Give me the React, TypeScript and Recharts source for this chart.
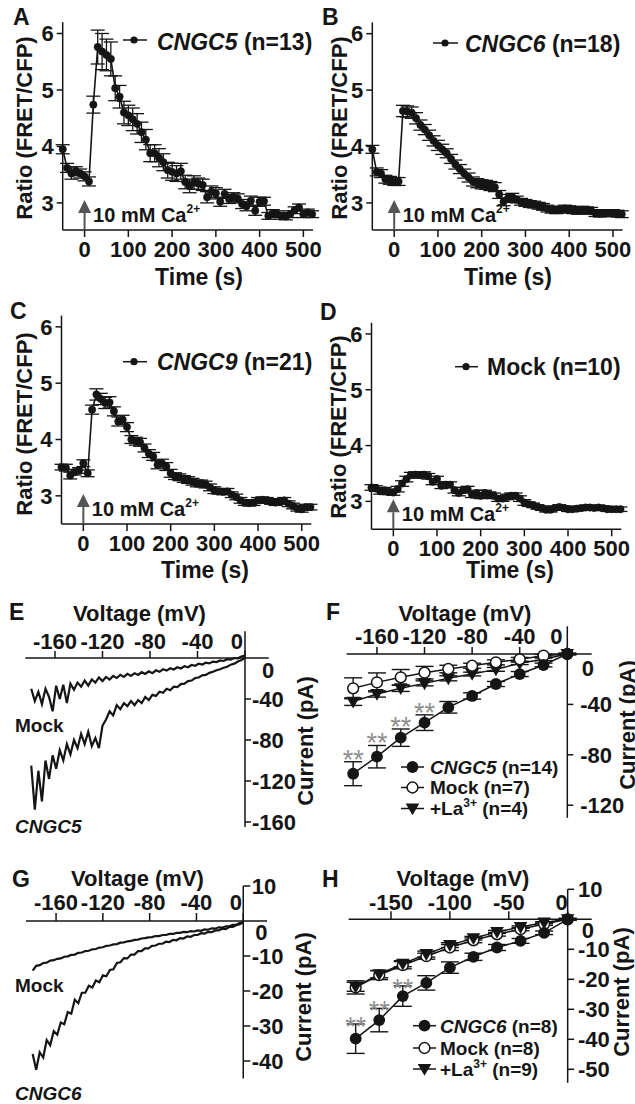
import React from "react";
import {
  ComposedChart,
  ErrorBar,
  Line,
  ReferenceDot,
  ReferenceLine,
  Scatter,
  XAxis,
  YAxis,
} from "recharts";

const FONT = '"Liberation Sans", Arial, Helvetica, sans-serif';
const INK = "#151515";
const ARROW_GRAY = "#555555";
const STAR_GRAY = "#8f8f8f";

// ---------- A–D: FRET/CFP ratio time courses ----------
const TIME_S = [
  -50, -40, -30, -20, -10, 0, 10, 20, 30, 40, 50, 60, 70, 80, 90, 100, 110, 120, 130, 140, 150,
  160, 170, 180, 190, 200, 210, 220, 230, 240, 250, 260, 270, 280, 290, 300, 310, 320, 330, 340,
  350, 360, 370, 380, 390, 400, 410, 420, 430, 440, 450, 460, 470, 480, 490, 500, 510, 520,
];
const TIME_TICKS = [0, 100, 200, 300, 400, 500];
const RATIO_TICKS = [3, 4, 5, 6];

const RATIO_CNGC5 = [
  3.95, 3.62, 3.52, 3.56, 3.52, 3.47, 3.38, 4.74, 5.76, 5.68, 5.62, 5.55, 5.03, 4.88, 4.6, 4.55,
  4.48, 4.4, 4.25, 4.12, 3.88, 3.88, 3.8, 3.72, 3.58, 3.55, 3.52, 3.56, 3.37, 3.3, 3.36, 3.34,
  3.32, 3.1, 3.2, 3.17, 3.02, 3.16, 3.07, 3.1, 3.08, 2.98, 2.94, 3.04, 2.86, 3.02, 3.03, 2.77,
  2.82, 2.8, 2.77, 2.76, 2.8, 2.87, 2.92, 2.8, 2.83, 2.8,
];
const SEM_CNGC5 = [
  0.08, 0.08, 0.1, 0.08, 0.08, 0.08, 0.08, 0.15, 0.3, 0.32, 0.28, 0.3, 0.22, 0.2, 0.2, 0.18, 0.2,
  0.18, 0.18, 0.18, 0.15, 0.15, 0.16, 0.15, 0.14, 0.15, 0.14, 0.14, 0.12, 0.12, 0.12, 0.1, 0.1,
  0.1, 0.1, 0.1, 0.08, 0.08, 0.08, 0.08, 0.08, 0.08, 0.08, 0.08, 0.08, 0.08, 0.07, 0.06, 0.06,
  0.06, 0.06, 0.06, 0.06, 0.06, 0.06, 0.06, 0.06, 0.06,
];
const RATIO_CNGC6 = [
  3.95, 3.55, 3.52, 3.42, 3.4, 3.38, 3.38, 4.63, 4.62, 4.6, 4.5, 4.38, 4.3, 4.2, 4.1, 4.02, 3.95,
  3.88, 3.78, 3.68, 3.6, 3.52, 3.45, 3.38, 3.35, 3.33, 3.32, 3.3, 3.28, 3.15, 3.02, 3.08, 3.1,
  3.06, 3.02, 3.0, 2.98, 2.97, 2.95, 2.93, 2.9, 2.88, 2.87, 2.88, 2.9, 2.89, 2.87, 2.86, 2.88,
  2.87, 2.86, 2.82, 2.81, 2.82, 2.82, 2.82, 2.81, 2.8,
];
const SEM_CNGC6 = [
  0.07, 0.07, 0.07, 0.07, 0.07, 0.07, 0.07, 0.1, 0.1, 0.1, 0.1, 0.09, 0.09, 0.09, 0.09, 0.09,
  0.09, 0.08, 0.08, 0.08, 0.08, 0.08, 0.08, 0.08, 0.08, 0.08, 0.08, 0.08, 0.08, 0.07, 0.07, 0.07,
  0.07, 0.06, 0.06, 0.06, 0.06, 0.06, 0.06, 0.06, 0.06, 0.06, 0.06, 0.06, 0.06, 0.06, 0.06, 0.06,
  0.06, 0.06, 0.06, 0.06, 0.06, 0.06, 0.06, 0.06, 0.06, 0.06,
];
const RATIO_CNGC9 = [
  3.51, 3.5, 3.36, 3.42, 3.45, 3.58, 3.4, 4.53, 4.8, 4.72, 4.65, 4.66, 4.5, 4.32, 4.35, 4.22, 4.0,
  3.97, 3.95, 3.85, 3.75, 3.7, 3.55, 3.58, 3.52, 3.4, 3.35, 3.33, 3.3, 3.28, 3.25, 3.22, 3.22,
  3.2, 3.15, 3.1, 3.08, 3.07, 3.08, 3.02, 2.98, 2.92, 2.88, 2.87, 2.88, 2.92, 2.93, 2.92, 2.9,
  2.88, 2.9, 2.92, 2.86, 2.82, 2.78, 2.76, 2.8, 2.8,
];
const SEM_CNGC9 = [
  0.05, 0.06, 0.06, 0.05, 0.05, 0.06, 0.06, 0.08, 0.1, 0.1, 0.1, 0.1, 0.08, 0.08, 0.08, 0.08,
  0.07, 0.07, 0.07, 0.07, 0.07, 0.07, 0.07, 0.07, 0.07, 0.07, 0.06, 0.06, 0.06, 0.06, 0.06, 0.06,
  0.06, 0.06, 0.06, 0.06, 0.05, 0.05, 0.05, 0.05, 0.05, 0.05, 0.05, 0.05, 0.05, 0.05, 0.05, 0.05,
  0.05, 0.05, 0.05, 0.05, 0.05, 0.05, 0.05, 0.05, 0.05, 0.05,
];
const RATIO_MOCK = [
  3.25, 3.23, 3.18, 3.2, 3.17, 3.16, 3.22, 3.32, 3.4, 3.47, 3.48, 3.47, 3.48, 3.45, 3.35, 3.4,
  3.28, 3.3, 3.3, 3.2, 3.15, 3.2, 3.22, 3.12, 3.15, 3.1, 3.15, 3.12, 3.1, 3.05, 3.05, 3.08, 3.1,
  3.1, 3.05, 2.98, 2.95, 2.93, 2.9, 2.88, 2.85, 2.85, 2.88, 2.9, 2.88, 2.86, 2.86, 2.87, 2.88,
  2.89, 2.89, 2.88, 2.89, 2.88, 2.86, 2.86, 2.86, 2.86,
];
const SEM_MOCK = [
  0.05, 0.05, 0.05, 0.05, 0.05, 0.05, 0.05, 0.05, 0.05, 0.05, 0.05, 0.05, 0.05, 0.05, 0.05, 0.05,
  0.05, 0.05, 0.05, 0.05, 0.05, 0.05, 0.05, 0.05, 0.05, 0.05, 0.05, 0.05, 0.05, 0.05, 0.05, 0.05,
  0.05, 0.05, 0.05, 0.05, 0.04, 0.04, 0.04, 0.04, 0.04, 0.04, 0.04, 0.04, 0.04, 0.04, 0.04, 0.04,
  0.04, 0.04, 0.04, 0.04, 0.04, 0.04, 0.04, 0.04, 0.04, 0.04,
];

// ---------- E, G: voltage-ramp current traces ----------
const RAMP_MV = [
  -180, -177, -174, -171, -168, -165, -162, -159, -156, -153, -150, -147, -144, -141, -138, -135,
  -132, -129, -126, -123, -120, -117, -114, -111, -108, -105, -102, -99, -96, -93, -90, -87, -84,
  -81, -78, -75, -72, -69, -66, -63, -60, -57, -54, -51, -48, -45, -42, -39, -36, -33, -30, -27,
  -24, -21, -18, -15, -12, -9, -6, -3, 0,
];
const RAMP_MOCK_E = [
  -30, -42, -33, -45, -30, -38, -52, -27, -40, -26, -44, -25, -31, -24, -28, -22, -27, -21, -24,
  -19, -22.5, -18.5, -21, -17.5, -19.5, -16.5, -18.5, -15.5, -17.5, -14.8, -16.5, -13.8, -15.5,
  -13, -14.8, -12, -13.5, -11, -12.3, -10, -11.2, -9, -10.2, -8, -9, -6.8, -7.6, -5.6, -6.4,
  -4.6, -5.3, -3.5, -4, -2.4, -2.9, -1.2, -1.6, 0, -0.3, 1.5, 2.5,
];
const RAMP_CNGC5_E = [
  -105, -148, -110, -140, -100, -118, -95, -108, -90, -100, -84, -94, -80, -88, -74, -84, -72,
  -86, -78, -88, -66, -60, -52, -56, -46, -50, -44, -47, -42, -46, -41, -44, -38, -41, -36, -37,
  -33, -34, -30, -31.5, -28, -28.5, -25.5, -25, -22.5, -22, -19.5, -19, -17, -16.5, -14.5, -13.5,
  -12, -11, -9.5, -8.5, -6.5, -5.5, -3.5, -2, 0,
];
const RAMP_MOCK_G = [
  -14.2, -12.8, -12.6, -12.0, -11.9, -11.3, -11.2, -10.8, -10.7, -10.2, -10.1, -9.7, -9.6, -9.1,
  -9.0, -8.6, -8.5, -8.1, -8.0, -7.6, -7.5, -7.1, -7.0, -6.7, -6.6, -6.2, -6.1, -5.8, -5.7, -5.4,
  -5.3, -5.0, -4.9, -4.7, -4.6, -4.3, -4.3, -4.0, -4.0, -3.7, -3.7, -3.4, -3.4, -3.1, -3.2, -2.9,
  -3.0, -2.7, -2.8, -2.4, -2.5, -2.1, -2.2, -1.8, -1.9, -1.5, -1.5, -1.1, -1.1, -0.6, -0.3,
];
const RAMP_CNGC6_G = [
  -38, -42.5, -37.5, -39, -34, -35.5, -31.5, -32.5, -29, -29.5, -26, -26.5, -22.5, -23.5, -20.5,
  -20.5, -18.5, -19, -17, -17.5, -15.5, -15.8, -14, -13.8, -12, -11.8, -10.6, -10.7, -9.6, -9.6,
  -8.6, -8.6, -7.8, -7.8, -7.1, -7.0, -6.5, -6.5, -5.9, -6.0, -5.4, -5.5, -4.9, -5.0, -4.4, -4.5,
  -4.0, -4.0, -3.5, -3.6, -3.1, -3.2, -2.7, -2.7, -2.2, -2.3, -1.7, -1.7, -1.2, -0.9, -0.4,
];

// ---------- F, H: step I–V relations ----------
const STEP_MV = [-180, -160, -140, -120, -100, -80, -60, -40, -20, 0];
const F_CNGC5 = [-95, -81.5, -66.4, -54.5, -42.3, -33.3, -23.8, -15.9, -8.7, 0];
const F_CNGC5_SEM = [9.5, 8.9, 6.9, 6.2, 4.6, 2.5, 2, 2, 1.5, 0.5];
const F_MOCK = [-27.2, -22.5, -18.5, -14.8, -11.9, -9.3, -6.6, -4.2, -1.3, 0];
const F_MOCK_SEM = [8.3, 7.5, 6.2, 5, 3, 2, 2, 1.5, 1, 0.5];
const F_LA = [-37.8, -31.7, -27.2, -23.3, -19.3, -15.9, -12.2, -7.4, -4.2, 0];
const F_LA_SEM = [3, 2.5, 2.5, 2, 2, 1.5, 1.5, 1, 1, 0.5];
const F_SIG = ["**", "**", "**", "**", "", "", "", "", "", ""];

const H_CNGC6 = [-39.8, -33.6, -25.6, -21.2, -16.1, -12.5, -9.4, -7.2, -4.5, 0];
const H_CNGC6_SEM = [4.9, 3.9, 3.4, 2.4, 1.9, 1.2, 1, 0.8, 0.6, 0.3];
const H_MOCK = [-22.7, -18.6, -15.3, -12.3, -9.4, -7.0, -5.0, -3.3, -1.6, 0];
const H_MOCK_SEM = [2.2, 1.5, 1.2, 1, 1, 0.8, 0.6, 0.5, 0.4, 0.3];
const H_LA = [-22.5, -18.3, -14.8, -11.6, -8.6, -6.3, -4.2, -2.6, -1.1, 0];
const H_LA_SEM = [1.5, 1.2, 1, 1, 0.8, 0.6, 0.5, 0.4, 0.3, 0.2];
const H_SIG = ["**", "**", "**", "", "", "", "", "", "", ""];

const VOLT_TICKS_40 = [-160, -120, -80, -40, 0];
const VOLT_TICKS_50 = [-150, -100, -50, 0];
const CURRENT_TICKS_E = [-40, -80, -120, -160];
const CURRENT_TICKS_F = [-40, -80, -120];
const CURRENT_TICKS_G = [10, -10, -20, -30, -40];
const CURRENT_TICKS_H = [10, -10, -20, -30, -40, -50];

const tickText = { fontFamily: FONT, fontSize: 22, fontWeight: 700, fill: INK };
const axisStroke = { stroke: INK, strokeWidth: 1.5 };

function CaArrow(props: any) {
  const { cx, cy } = props;
  return (
    <g>
      <line x1={cx} y1={cy} x2={cx} y2={cy - 17} stroke={ARROW_GRAY} strokeWidth={2} />
      <polygon
        points={`${cx - 6.5},${cy - 17} ${cx + 6.5},${cy - 17} ${cx},${cy - 30}`}
        fill={ARROW_GRAY}
      />
      <text x={cx + 8.5} y={cy - 8} style={{ ...tickText, fontSize: 20 }}>
        10 mM Ca
        <tspan dy={-9} style={{ fontSize: 12 }}>
          2+
        </tspan>
      </text>
    </g>
  );
}

type Margin = { top: number; right: number; bottom: number; left: number };

function TimeCourse({
  left,
  top,
  margin,
  yAxisWidth,
  yDomain,
  ratio,
  sem,
}: {
  left: number;
  top: number;
  margin: Margin;
  yAxisWidth: number;
  yDomain: [number, number];
  ratio: number[];
  sem: number[];
}) {
  const rows = TIME_S.map((t, i) => ({ t, ratio: ratio[i], sem: sem[i] }));
  return (
    <div style={{ position: "absolute", left, top }}>
      <ComposedChart width={334} height={300} data={rows} margin={margin}>
        <XAxis
          dataKey="t"
          type="number"
          domain={[-50, 522]}
          ticks={TIME_TICKS}
          interval={0}
          height={40}
          tickSize={7}
          tickMargin={4}
          axisLine={axisStroke}
          tickLine={axisStroke}
          tick={tickText}
        />
        <YAxis
          type="number"
          domain={yDomain}
          ticks={RATIO_TICKS}
          interval={0}
          width={yAxisWidth}
          tickSize={6}
          tickMargin={3}
          axisLine={axisStroke}
          tickLine={axisStroke}
          tick={tickText}
        />
        <ReferenceDot x={0} y={yDomain[0]} ifOverflow="visible" shape={CaArrow} />
        <Line
          dataKey="ratio"
          stroke={INK}
          strokeWidth={1.6}
          dot={{ r: 3.7, fill: INK, stroke: INK, strokeWidth: 0.5 }}
          activeDot={false}
          isAnimationActive={false}
        >
          <ErrorBar dataKey="sem" width={7} stroke={INK} strokeWidth={1.3} />
        </Line>
      </ComposedChart>
    </div>
  );
}

// axes that cross inside the plot (voltage along I = 0, current along V = 0)
const voltTick = (label: number, len: number, gap: number, zeroShift: number) => (p: any) => (
  <g>
    <line x1={p.cx} y1={p.cy} x2={p.cx} y2={p.cy - len} stroke={INK} strokeWidth={1.5} />
    <text
      x={p.cx + (label === 0 ? zeroShift : 0)}
      y={p.cy - gap}
      textAnchor="middle"
      style={tickText}
    >
      {label}
    </text>
  </g>
);

const currentTick = (label: number, len: number, gap: number) => (p: any) => (
  <g>
    <line x1={p.cx} y1={p.cy} x2={p.cx + len} y2={p.cy} stroke={INK} strokeWidth={1.5} />
    <text x={p.cx + gap} y={p.cy} dy="0.36em" style={tickText}>
      {label}
    </text>
  </g>
);

const zeroLabel = (dx: number, dy: number) => (p: any) => (
  <text x={p.cx + dx} y={p.cy + dy} dy="0.36em" style={tickText}>
    0
  </text>
);

function crossAxes(o: {
  voltTicks: number[];
  vLen: number;
  vGap: number;
  vZeroShift: number;
  currentTicks: number[];
  cLen: number;
  cGap: number;
  zeroDx: number;
  zeroDy: number;
}) {
  return [
    <ReferenceLine key="h0" y={0} stroke={INK} strokeWidth={1.5} />,
    <ReferenceLine key="v0" x={0} stroke={INK} strokeWidth={1.5} />,
    ...o.voltTicks.map((v) => (
      <ReferenceDot
        key={`vt${v}`}
        x={v}
        y={0}
        shape={voltTick(v, o.vLen, o.vGap, o.vZeroShift)}
      />
    )),
    ...o.currentTicks.map((c) => (
      <ReferenceDot key={`ct${c}`} x={0} y={c} shape={currentTick(c, o.cLen, o.cGap)} />
    )),
    <ReferenceDot key="c0" x={0} y={0} shape={zeroLabel(o.zeroDx, o.zeroDy)} />,
  ];
}

type MarkerKind = "filled" | "open" | "triangle";

function Marker({ kind, cx, cy }: { kind: MarkerKind; cx: number; cy: number }) {
  if (kind === "filled") return <circle cx={cx} cy={cy} r={5.9} fill={INK} />;
  if (kind === "open")
    return <circle cx={cx} cy={cy} r={5.4} fill="#ffffff" stroke={INK} strokeWidth={1.5} />;
  return (
    <polygon
      points={`${cx - 6.8},${cy - 5} ${cx + 6.8},${cy - 5} ${cx},${cy + 6.8}`}
      fill={INK}
    />
  );
}

const markerDot = (kind: MarkerKind) => (p: any) =>
  <Marker key={`${kind}-${p.index}`} kind={kind} cx={p.cx} cy={p.cy} />;

const asteriskShape = (lift: number) => (p: any) => (
  <text
    x={p.cx}
    y={p.cy + lift}
    textAnchor="middle"
    style={{ fontFamily: FONT, fontSize: 27, fill: STAR_GRAY }}
  >
    {p.payload?.mark ?? "**"}
  </text>
);

const rampRows = (values: number[]) => RAMP_MV.map((v, i) => ({ v, i: values[i] }));
const stepRows = (values: number[], sem: number[]) =>
  STEP_MV.map((v, i) => ({ v, i: values[i], sem: sem[i] }));
const sigRows = (values: number[], sem: number[], sig: string[]) =>
  STEP_MV.map((v, i) => ({ v, top: values[i] + sem[i], mark: sig[i] })).filter((r) => r.mark);

function StepSeries(rows: any[], kind: MarkerKind, key: string) {
  return (
    <Line
      key={key}
      data={rows}
      dataKey="i"
      stroke={INK}
      strokeWidth={1.5}
      dot={markerDot(kind)}
      activeDot={false}
      isAnimationActive={false}
    >
      <ErrorBar dataKey="sem" width={9} stroke={INK} strokeWidth={1.4} />
    </Line>
  );
}

function RampPanel({
  left,
  top,
  height,
  margin,
  xDomain,
  yDomain,
  mock,
  cngc,
  axes,
}: {
  left: number;
  top: number;
  height: number;
  margin: Margin;
  xDomain: [number, number];
  yDomain: [number, number];
  mock: number[];
  cngc: number[];
  axes: React.ReactNode[];
}) {
  return (
    <div style={{ position: "absolute", left, top }}>
      <ComposedChart width={318} height={height} margin={margin}>
        <XAxis dataKey="v" type="number" domain={xDomain} hide />
        <YAxis type="number" domain={yDomain} hide />
        {axes}
        <Line
          data={rampRows(mock)}
          dataKey="i"
          stroke={INK}
          strokeWidth={2.2}
          dot={false}
          activeDot={false}
          isAnimationActive={false}
        />
        <Line
          data={rampRows(cngc)}
          dataKey="i"
          stroke={INK}
          strokeWidth={2.2}
          dot={false}
          activeDot={false}
          isAnimationActive={false}
        />
      </ComposedChart>
    </div>
  );
}

function StepPanel({
  left,
  top,
  height,
  margin,
  xDomain,
  yDomain,
  series,
  sig,
  starLift,
  axes,
}: {
  left: number;
  top: number;
  height: number;
  margin: Margin;
  xDomain: [number, number];
  yDomain: [number, number];
  series: React.ReactNode[];
  sig: any[];
  starLift: number;
  axes: React.ReactNode[];
}) {
  return (
    <div style={{ position: "absolute", left, top }}>
      <ComposedChart width={317} height={height} margin={margin}>
        <XAxis dataKey="v" type="number" domain={xDomain} hide />
        <YAxis type="number" domain={yDomain} hide />
        {axes}
        {series}
        <Scatter
          data={sig}
          dataKey="top"
          shape={asteriskShape(starLift)}
          isAnimationActive={false}
        />
      </ComposedChart>
    </div>
  );
}

const bold = (size: number) => ({ fontFamily: FONT, fontSize: size, fontWeight: 700, fill: INK });

function PanelLetter({ x, y, children }: { x: number; y: number; children: string }) {
  return (
    <text x={x} y={y} style={bold(23)}>
      {children}
    </text>
  );
}

function VerticalTitle({ x, y, size, children }: { x: number; y: number; size: number; children: string }) {
  return (
    <text transform={`translate(${x},${y}) rotate(-90)`} textAnchor="middle" style={bold(size)}>
      {children}
    </text>
  );
}

function TraceLegend({
  x1,
  x2,
  dotX,
  y,
  textX,
  textY,
  gene,
  label,
}: {
  x1: number;
  x2: number;
  dotX: number;
  y: number;
  textX: number;
  textY: number;
  gene?: string;
  label: string;
}) {
  return (
    <g>
      <line x1={x1} x2={x2} y1={y} y2={y} stroke={INK} strokeWidth={1.5} />
      <circle cx={dotX} cy={y} r={3.6} fill={INK} />
      <text x={textX} y={textY} style={bold(23)}>
        {gene ? <tspan fontStyle="italic">{gene}</tspan> : null}
        {label}
      </text>
    </g>
  );
}

function IVLegendRow({
  x,
  y,
  textGap,
  kind,
  children,
}: {
  x: number;
  y: number;
  textGap: number;
  kind: MarkerKind;
  children: React.ReactNode;
}) {
  return (
    <g>
      <line x1={x} x2={x + 23} y1={y} y2={y} stroke={INK} strokeWidth={1.5} />
      <Marker kind={kind} cx={x + 11.5} cy={y} />
      <text x={x + textGap} y={y} dy="0.36em" style={bold(19)}>
        {children}
      </text>
    </g>
  );
}

function LaLabel({ n }: { n: number }) {
  return (
    <>
      +La
      <tspan dy={-8} style={{ fontSize: 12 }}>
        3+
      </tspan>
      <tspan dy={8}>{` (n=${n})`}</tspan>
    </>
  );
}

export default function App() {
  return (
    <div
      style={{
        position: "absolute",
        left: 0,
        top: 0,
        width: 635,
        height: 1104,
        background: "#ffffff",
        overflow: "hidden",
      }}
    >
      <TimeCourse
        left={0}
        top={0}
        margin={{ top: 22.2, right: 21, bottom: 30, left: 0 }}
        yAxisWidth={62.7}
        yDomain={[2.52, 6.2]}
        ratio={RATIO_CNGC5}
        sem={SEM_CNGC5}
      />
      <TimeCourse
        left={315}
        top={0}
        margin={{ top: 22.4, right: 26.4, bottom: 30, left: 0 }}
        yAxisWidth={57.3}
        yDomain={[2.52, 6.2]}
        ratio={RATIO_CNGC6}
        sem={SEM_CNGC6}
      />
      <TimeCourse
        left={0}
        top={300}
        margin={{ top: 15.6, right: 22.7, bottom: 36, left: 0 }}
        yAxisWidth={61.5}
        yDomain={[2.5, 6.2]}
        ratio={RATIO_CNGC9}
        sem={SEM_CNGC9}
      />
      <TimeCourse
        left={315}
        top={300}
        margin={{ top: 22.8, right: 27.7, bottom: 30.7, left: 0 }}
        yAxisWidth={56.5}
        yDomain={[2.5, 6.2]}
        ratio={RATIO_MOCK}
        sem={SEM_MOCK}
      />

      <RampPanel
        left={0}
        top={600}
        height={240}
        margin={{ top: 31.35, right: 49.25, bottom: 12.9, left: 25.3 }}
        xDomain={[-185, 20]}
        yDomain={[-165, 26]}
        mock={RAMP_MOCK_E}
        cngc={RAMP_CNGC5_E}
        axes={crossAxes({
          voltTicks: VOLT_TICKS_40,
          vLen: 7,
          vGap: 8.5,
          vZeroShift: -8,
          currentTicks: CURRENT_TICKS_E,
          cLen: 6,
          cGap: 7,
          zeroDx: 17,
          zeroDy: 12,
        })}
      />
      <StepPanel
        left={318}
        top={600}
        height={240}
        margin={{ top: 26.3, right: 43.3, bottom: 22.2, left: 28.6 }}
        xDomain={[-185.5, 20.5]}
        yDomain={[-130, 22]}
        series={[
          StepSeries(stepRows(F_LA, F_LA_SEM), "triangle", "la"),
          StepSeries(stepRows(F_MOCK, F_MOCK_SEM), "open", "mock"),
          StepSeries(stepRows(F_CNGC5, F_CNGC5_SEM), "filled", "cngc5"),
        ]}
        sig={sigRows(F_CNGC5, F_CNGC5_SEM, F_SIG)}
        starLift={7}
        axes={crossAxes({
          voltTicks: VOLT_TICKS_40,
          vLen: 7,
          vGap: 10,
          vZeroShift: -11,
          currentTicks: CURRENT_TICKS_F,
          cLen: 6,
          cGap: 13,
          zeroDx: 14.5,
          zeroDy: 14,
        })}
      />
      <RampPanel
        left={0}
        top={860}
        height={244}
        margin={{ top: 26, right: 51, bottom: 25.5, left: 26 }}
        xDomain={[-185.7, 20.3]}
        yDomain={[-45, 10]}
        mock={RAMP_MOCK_G}
        cngc={RAMP_CNGC6_G}
        axes={crossAxes({
          voltTicks: VOLT_TICKS_40,
          vLen: 8,
          vGap: 11,
          vZeroShift: -7.5,
          currentTicks: CURRENT_TICKS_G,
          cLen: 7,
          cGap: 8.4,
          zeroDx: 12,
          zeroDy: 10.7,
        })}
      />
      <StepPanel
        left={318}
        top={860}
        height={244}
        margin={{ top: 29.3, right: 43.3, bottom: 21.2, left: 30.6 }}
        xDomain={[-186, 20.4]}
        yDomain={[-54.5, 10]}
        series={[
          StepSeries(stepRows(H_MOCK, H_MOCK_SEM), "open", "mock"),
          StepSeries(stepRows(H_LA, H_LA_SEM), "triangle", "la"),
          StepSeries(stepRows(H_CNGC6, H_CNGC6_SEM), "filled", "cngc6"),
        ]}
        sig={sigRows(H_CNGC6, H_CNGC6_SEM, H_SIG)}
        starLift={12}
        axes={crossAxes({
          voltTicks: VOLT_TICKS_50,
          vLen: 8,
          vGap: 9.3,
          vZeroShift: -6,
          currentTicks: CURRENT_TICKS_H,
          cLen: 6.5,
          cGap: 10.3,
          zeroDx: 14,
          zeroDy: 11,
        })}
      />

      <svg
        width={635}
        height={1104}
        style={{ position: "absolute", left: 0, top: 0, pointerEvents: "none" }}
      >
        <PanelLetter x={13} y={25}>A</PanelLetter>
        <PanelLetter x={322} y={25}>B</PanelLetter>
        <PanelLetter x={10} y={319}>C</PanelLetter>
        <PanelLetter x={320} y={320}>D</PanelLetter>
        <PanelLetter x={9} y={620}>E</PanelLetter>
        <PanelLetter x={326} y={620}>F</PanelLetter>
        <PanelLetter x={12} y={887}>G</PanelLetter>
        <PanelLetter x={322} y={887}>H</PanelLetter>

        <VerticalTitle x={32} y={128} size={22}>Ratio (FRET/CFP)</VerticalTitle>
        <VerticalTitle x={346.5} y={128} size={22}>Ratio (FRET/CFP)</VerticalTitle>
        <VerticalTitle x={32} y={424} size={22}>Ratio (FRET/CFP)</VerticalTitle>
        <VerticalTitle x={345.5} y={427} size={22}>Ratio (FRET/CFP)</VerticalTitle>

        <text x={199} y={285} textAnchor="middle" style={bold(23)}>Time (s)</text>
        <text x={508} y={285} textAnchor="middle" style={bold(23)}>Time (s)</text>
        <text x={205} y={578} textAnchor="middle" style={bold(23)}>Time (s)</text>
        <text x={510} y={578} textAnchor="middle" style={bold(23)}>Time (s)</text>

        <TraceLegend x1={123} x2={147} dotX={134} y={40} textX={157} textY={50} gene="CNGC5" label=" (n=13)" />
        <TraceLegend x1={433} x2={458} dotX={445} y={43} textX={465} textY={51.7} gene="CNGC6" label=" (n=18)" />
        <TraceLegend x1={123} x2={147} dotX={134} y={361.7} textX={157} textY={370} gene="CNGC9" label=" (n=21)" />
        <TraceLegend x1={455} x2={478} dotX={466} y={366.7} textX={487} textY={375} label="Mock (n=10)" />

        <text x={139.5} y={621} textAnchor="middle" style={bold(22)}>Voltage (mV)</text>
        <text x={465} y={621} textAnchor="middle" style={bold(22)}>Voltage (mV)</text>
        <text x={137.5} y={886} textAnchor="middle" style={bold(22)}>Voltage (mV)</text>
        <text x={463} y={886} textAnchor="middle" style={bold(22)}>Voltage (mV)</text>

        <VerticalTitle x={313} y={741} size={22}>Current (pA)</VerticalTitle>
        <VerticalTitle x={635} y={725} size={22}>Current (pA)</VerticalTitle>
        <VerticalTitle x={311} y={997} size={22}>Current (pA)</VerticalTitle>
        <VerticalTitle x={629} y={992} size={22}>Current (pA)</VerticalTitle>

        <text x={15} y={732} style={bold(19)}>Mock</text>
        <text x={15} y={833} style={{ ...bold(19), fontStyle: "italic" }}>CNGC5</text>
        <text x={15} y={992} style={bold(19)}>Mock</text>
        <text x={15} y={1100} style={{ ...bold(19), fontStyle: "italic" }}>CNGC6</text>

        <IVLegendRow x={401} y={767} textGap={29} kind="filled">
          <tspan fontStyle="italic">CNGC5</tspan> (n=14)
        </IVLegendRow>
        <IVLegendRow x={401} y={787.5} textGap={29} kind="open">
          Mock (n=7)
        </IVLegendRow>
        <IVLegendRow x={401} y={808.5} textGap={29} kind="triangle">
          <LaLabel n={4} />
        </IVLegendRow>

        <IVLegendRow x={413} y={1025.7} textGap={27} kind="filled">
          <tspan fontStyle="italic">CNGC6</tspan> (n=8)
        </IVLegendRow>
        <IVLegendRow x={413} y={1048} textGap={27} kind="open">
          Mock (n=8)
        </IVLegendRow>
        <IVLegendRow x={413} y={1069} textGap={27} kind="triangle">
          <LaLabel n={9} />
        </IVLegendRow>
      </svg>
    </div>
  );
}
